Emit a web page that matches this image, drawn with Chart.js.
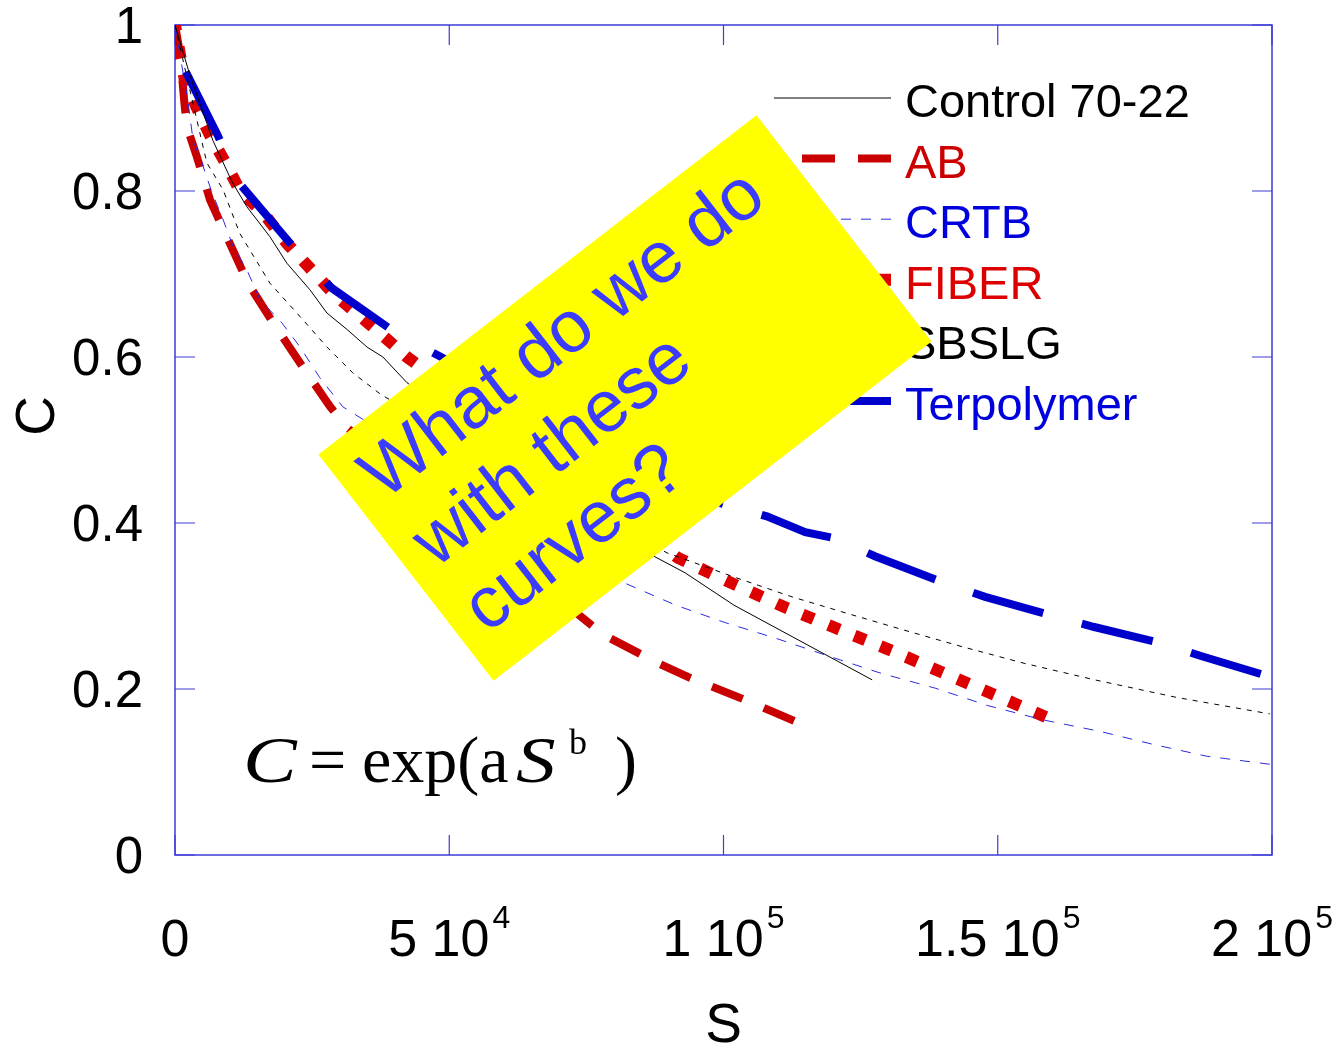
<!DOCTYPE html>
<html>
<head>
<meta charset="utf-8">
<title>C vs S</title>
<script src="https://cdn.jsdelivr.net/npm/chart.js@4/dist/chart.umd.min.js"></script>
<style>
  body { margin: 0; background: #ffffff; }
  #wrap { width: 1343px; height: 1054px; position: relative; }
</style>
</head>
<body>
<div id="wrap"><canvas id="chart"></canvas></div>
<script>
// axis ticks
const xTickValues = [0, 50000, 100000, 150000, 200000];
const xTickMantissa = ['0', '5 10', '1 10', '1.5 10', '2 10'];
const xTickExponent = ['', '4', '5', '5', '5'];
const yTickValues = [0, 0.2, 0.4, 0.6, 0.8, 1];
const yTickLabels = ['0', '0.2', '0.4', '0.6', '0.8', '1'];

// series (parts under the yellow note are guessed)
const controlS = [0, 2700, 6900, 10400, 13100, 17300, 20400, 24600, 27700, 31400, 35000, 37900, 42300, 87300, 93000, 101900, 127100];
const controlC = [1.0, 0.940, 0.861, 0.811, 0.781, 0.745, 0.713, 0.681, 0.653, 0.633, 0.612, 0.600, 0.569, 0.360, 0.340, 0.301, 0.211];

const abS = [0, 900, 1800, 2200, 4000, 6400, 10000, 13300, 17900, 23300, 28300, 31500, 78200, 88100, 93700, 103900, 113800];
const abC = [1.0, 0.966, 0.900, 0.877, 0.841, 0.789, 0.737, 0.689, 0.641, 0.588, 0.540, 0.514, 0.265, 0.231, 0.214, 0.187, 0.159];

const crtbS = [0, 2400, 3300, 4900, 6700, 8800, 10600, 13100, 15500, 19500, 22800, 26400, 30600, 81500, 91300, 100300, 109600, 119000, 128700, 138600, 148200, 158100, 168600, 178500, 188100, 200000];
const crtbC = [1.0, 0.906, 0.861, 0.834, 0.799, 0.765, 0.733, 0.705, 0.669, 0.641, 0.612, 0.575, 0.540, 0.329, 0.301, 0.280, 0.261, 0.240, 0.219, 0.201, 0.180, 0.163, 0.149, 0.133, 0.119, 0.109];

const fiberS = [0, 900, 1800, 4000, 6400, 9100, 11800, 16400, 20400, 24600, 28800, 33400, 37700, 42300, 91700, 101000, 111000, 121000, 131100, 140900, 150800, 160600];
const fiberC = [1.0, 0.964, 0.934, 0.900, 0.867, 0.835, 0.801, 0.771, 0.737, 0.707, 0.677, 0.651, 0.627, 0.600, 0.358, 0.329, 0.299, 0.272, 0.245, 0.217, 0.189, 0.161];

const sbslgS = [0, 2700, 5800, 8800, 11800, 17300, 23300, 27700, 32400, 37700, 89700, 101900, 112500, 123100, 132900, 143500, 154800, 167700, 182500, 199600];
const sbslgC = [1.0, 0.922, 0.834, 0.801, 0.749, 0.689, 0.645, 0.612, 0.581, 0.554, 0.364, 0.335, 0.311, 0.290, 0.271, 0.251, 0.231, 0.211, 0.190, 0.170];

const terpS = [0, 1800, 7800, 11500, 21000, 28600, 40700, 99400, 107900, 114900, 120700, 127600, 140200, 147700, 160100, 167400, 180000, 186900, 200000];
const terpC = [1.0, 0.946, 0.867, 0.811, 0.737, 0.683, 0.627, 0.424, 0.408, 0.389, 0.381, 0.360, 0.328, 0.311, 0.288, 0.275, 0.255, 0.240, 0.214];

const seriesNames = ['Control 70-22', 'AB', 'CRTB', 'FIBER', 'SBSLG', 'Terpolymer'];
const noteLines = ['What do we do', 'with these', 'curves?'];

function pts(xs, ys) {
    return xs.map((x, i) => ({ x: x, y: ys[i] }));
}

// restart the dash pattern where a curve comes out from under the note
function dashRestart(fromIndex, before, after, dashBefore, dashAfter) {
    const seg = { borderDashOffset: c => (c.p0DataIndex >= fromIndex ? after : before) };
    if (dashBefore) seg.borderDash = c => (c.p0DataIndex >= fromIndex ? dashAfter : dashBefore);
    return seg;
}

const datasets = [
    { label: seriesNames[0], data: pts(controlS, controlC), borderColor: '#000000', borderWidth: 1, borderDash: [], order: 0, textColor: '#000000' },
    { label: seriesNames[1], data: pts(abS, abC), borderColor: '#c80000', borderWidth: 8, borderDash: [33, 23], order: 5, textColor: '#cc0000',
      segment: dashRestart(12, 0, 0) },
    { label: seriesNames[2], data: pts(crtbS, crtbC), borderColor: '#2a2ae0', borderWidth: 1, borderDash: [10, 10], order: 2, textColor: '#0000dd' },
    { label: seriesNames[3], data: pts(fiberS, fiberC), borderColor: '#dd0000', borderWidth: 12, borderDash: [12, 16], order: 4, textColor: '#dd0000',
      segment: dashRestart(14, 6, 6) },
    { label: seriesNames[4], data: pts(sbslgS, sbslgC), borderColor: '#000000', borderWidth: 1, borderDash: [5, 6], order: 1, textColor: '#000000' },
    { label: seriesNames[5], data: pts(terpS, terpC), borderColor: '#0000cc', borderWidth: 8, borderDash: [73, 40], order: 3, textColor: '#0000dd',
      segment: dashRestart(7, 80, 70, [76, 52], [73, 40]) }
];
datasets.forEach(d => {
    d.pointRadius = 0;
    d.fill = false;
    d.tension = 0;
    d.borderCapStyle = 'butt';
    d.borderJoinStyle = 'miter';
});

const SANS = '"Liberation Sans", Arial, Helvetica, sans-serif';
const SERIF = '"Liberation Serif", "Times New Roman", serif';
const FRAME = '#3c3cd8';

function wideText(ctx, text, x, y, sx) {
    ctx.save();
    ctx.translate(x, y);
    ctx.scale(sx, 1);
    ctx.fillText(text, 0, 0);
    ctx.restore();
}

const framePlugin = {
    id: 'frame',
    beforeDatasetsDraw(chart) {
        const { ctx, chartArea: a, scales } = chart;
        ctx.save();
        ctx.strokeStyle = FRAME;
        ctx.lineWidth = 1.5;
        ctx.strokeRect(a.left, a.top, a.right - a.left, a.bottom - a.top);
        ctx.lineWidth = 1.2;
        ctx.beginPath();
        xTickValues.forEach(v => {
            const px = scales.x.getPixelForValue(v);
            ctx.moveTo(px, a.bottom); ctx.lineTo(px, a.bottom - 20);
            ctx.moveTo(px, a.top); ctx.lineTo(px, a.top + 20);
        });
        yTickValues.forEach(v => {
            const py = scales.y.getPixelForValue(v);
            ctx.moveTo(a.left, py); ctx.lineTo(a.left + 20, py);
            ctx.moveTo(a.right, py); ctx.lineTo(a.right - 20, py);
        });
        ctx.stroke();

        // tick labels
        ctx.fillStyle = '#000';
        ctx.font = '51px ' + SANS;
        ctx.textAlign = 'right';
        ctx.textBaseline = 'middle';
        yTickValues.forEach((v, i) => {
            ctx.fillText(yTickLabels[i], a.left - 32, scales.y.getPixelForValue(v) + 4);
        });
        ctx.textBaseline = 'alphabetic';
        ctx.textAlign = 'left';
        xTickValues.forEach((v, i) => {
            const px = scales.x.getPixelForValue(v);
            ctx.font = '52px ' + SANS;
            const w1 = ctx.measureText(xTickMantissa[i]).width;
            ctx.font = '32px ' + SANS;
            const w2 = xTickExponent[i] ? ctx.measureText(xTickExponent[i]).width + 3 : 0;
            const x0 = px - (w1 + w2) / 2;
            ctx.font = '52px ' + SANS;
            ctx.fillText(xTickMantissa[i], x0, a.bottom + 101);
            if (xTickExponent[i]) {
                ctx.font = '32px ' + SANS;
                ctx.fillText(xTickExponent[i], x0 + w1 + 3, a.bottom + 73);
            }
        });

        // axis titles
        ctx.font = '55px ' + SANS;
        ctx.textAlign = 'center';
        ctx.textBaseline = 'middle';
        ctx.fillText('S', (a.left + a.right) / 2, a.bottom + 172);
        ctx.save();
        ctx.translate(39, (a.top + a.bottom) / 2 - 24);
        ctx.rotate(-Math.PI / 2);
        ctx.fillText('C', 0, 0);
        ctx.restore();
        ctx.restore();
    },
    afterDatasetsDraw(chart) {
        const { ctx } = chart;
        ctx.save();

        // legend
        ctx.fillStyle = '#ffffff';
        ctx.fillRect(748, 55, 465, 393);
        ctx.font = '47px ' + SANS;
        ctx.textAlign = 'left';
        ctx.textBaseline = 'alphabetic';
        chart.data.datasets.forEach((d, i) => {
            const base = 117 + i * 60.6;
            const ly = base - 19;
            ctx.save();
            ctx.strokeStyle = d.borderColor;
            ctx.lineWidth = d.borderWidth;
            ctx.setLineDash(d.borderDash);
            ctx.lineDashOffset = 0;
            ctx.lineCap = 'butt';
            ctx.beginPath();
            ctx.moveTo(891, ly);
            ctx.lineTo(774, ly);
            ctx.stroke();
            ctx.restore();
            ctx.fillStyle = d.textColor;
            ctx.fillText(d.label, 905, base);
        });

        // formula
        ctx.fillStyle = '#000';
        ctx.font = 'italic 66px ' + SERIF;
        wideText(ctx, 'C', 243, 782, 1.22);
        ctx.font = '66px ' + SERIF;
        ctx.fillText('=', 309, 782);
        ctx.fillText('exp(a', 362, 782);
        ctx.font = 'italic 66px ' + SERIF;
        wideText(ctx, 'S', 516, 782, 1.2);
        ctx.font = '36px ' + SERIF;
        ctx.fillText('b', 569, 754);
        ctx.font = '66px ' + SERIF;
        ctx.fillText(')', 615, 782);

        // yellow note
        ctx.translate(625, 398);
        ctx.rotate(Math.atan2(-340, 439));
        ctx.fillStyle = '#ffff00';
        ctx.fillRect(-277, -143, 554, 286);
        ctx.fillStyle = '#3c3cff';
        ctx.font = '73px ' + SANS;
        const baselines = [-66, 19, 102];
        noteLines.forEach((t, i) => ctx.fillText(t, -254, baselines[i]));
        ctx.restore();
    }
};

new Chart(document.getElementById('chart'), {
    type: 'line',
    data: { datasets: datasets },
    options: {
        responsive: true,
        maintainAspectRatio: false,
        animation: false,
        layout: { padding: { left: 175, right: 71, top: 25, bottom: 199 } },
        scales: {
            x: { type: 'linear', min: 0, max: 200000, display: false },
            y: { type: 'linear', min: 0, max: 1, display: false }
        },
        plugins: {
            legend: { display: false },
            tooltip: { enabled: false }
        }
    },
    plugins: [framePlugin]
});
</script>
</body>
</html>
